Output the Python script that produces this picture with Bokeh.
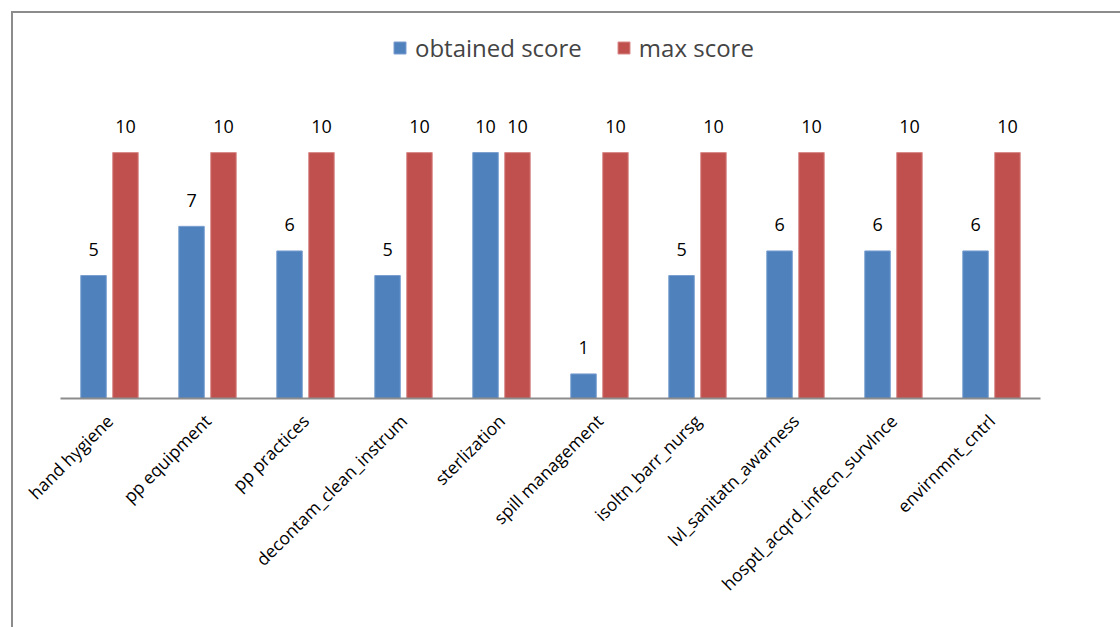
from math import pi
from bokeh.plotting import figure
from bokeh.models import ColumnDataSource, FactorRange, Range1d, Legend, LegendItem, Div
from bokeh.layouts import column
from bokeh.transform import dodge
from bokeh.core.properties import value
from bokeh.embed import file_html
from bokeh.resources import INLINE

categories = ["hand hygiene", "pp equipment", "pp practices", "decontam_clean_instrum",
              "sterlization", "spill management", "isoltn_barr_nursg",
              "lvl_sanitatn_awarness", "hosptl_acqrd_infecn_survlnce", "envirnmnt_cntrl"]
obtained = [5, 7, 6, 5, 10, 1, 5, 6, 6, 6]
max_score = [10, 10, 10, 10, 10, 10, 10, 10, 10, 10]
series_names = ["obtained score", "max score"]

FONT = "Open Sans"
BLUE = "#4F81BD"
RED = "#C0504D"

src = ColumnDataSource(dict(
    cat=categories,
    obtained=obtained,
    maxs=max_score,
    obtained_lbl=[str(v) for v in obtained],
    max_lbl=[str(v) for v in max_score],
))

p = figure(
    width=1120, height=627,
    x_range=FactorRange(*categories, range_padding=0),
    y_range=Range1d(0, 15.37),
    output_backend="svg", toolbar_location=None,
    min_border_left=60, min_border_right=80, min_border_top=20, min_border_bottom=229,
)
p.outline_line_color = None
p.xgrid.visible = False
p.ygrid.visible = False
p.yaxis.visible = False

off = 0.163
bw = 0.26
r1 = p.vbar(x=dodge("cat", -off, range=p.x_range), top="obtained", width=bw, source=src,
            fill_color=BLUE, line_color="#7a9fd0", line_width=1)
r2 = p.vbar(x=dodge("cat", off, range=p.x_range), top="maxs", width=bw, source=src,
            fill_color=RED, line_color="#d88a88", line_width=1)

p.text(x=dodge("cat", -off, range=p.x_range), y="obtained", text="obtained_lbl", source=src,
       text_align="center", text_baseline="middle", y_offset=-26,
       text_font=value(FONT), text_font_size="18px", text_color="#000000")
p.text(x=dodge("cat", off, range=p.x_range), y="maxs", text="max_lbl", source=src,
       text_align="center", text_baseline="middle", y_offset=-26,
       text_font=value(FONT), text_font_size="18px", text_color="#000000")

ax = p.xaxis[0]
ax.major_label_orientation = pi / 4
ax.major_label_text_font = FONT
ax.major_label_text_font_size = "17.5px"
ax.major_label_text_color = "#000000"
ax.major_tick_line_color = None
ax.minor_tick_line_color = None
ax.axis_line_color = "#8c8c8c"
ax.axis_line_width = 2
ax.major_label_standoff = 13

legend = Legend(items=[LegendItem(label=series_names[0], renderers=[r1]),
                       LegendItem(label=series_names[1], renderers=[r2])],
                orientation="horizontal", location=(332, 334),
                label_text_font=FONT, label_text_font_size="24px",
                glyph_width=15, glyph_height=15, label_standoff=8, spacing=34,
                padding=0, margin=0, border_line_color=None, background_fill_alpha=0)
p.add_layout(legend, "center")

# chart-area frame: only its top and left edges fall inside the page
frame_div = Div(text="", width=1112, height=619,
                styles={"position": "absolute", "left": "6px", "top": "6px",
                        "border-top": "2px solid #8c8c8c", "border-left": "2px solid #8c8c8c",
                        "pointer-events": "none"})
lay = column(p, frame_div)

open("out.html", "w").write(file_html(lay, INLINE))
